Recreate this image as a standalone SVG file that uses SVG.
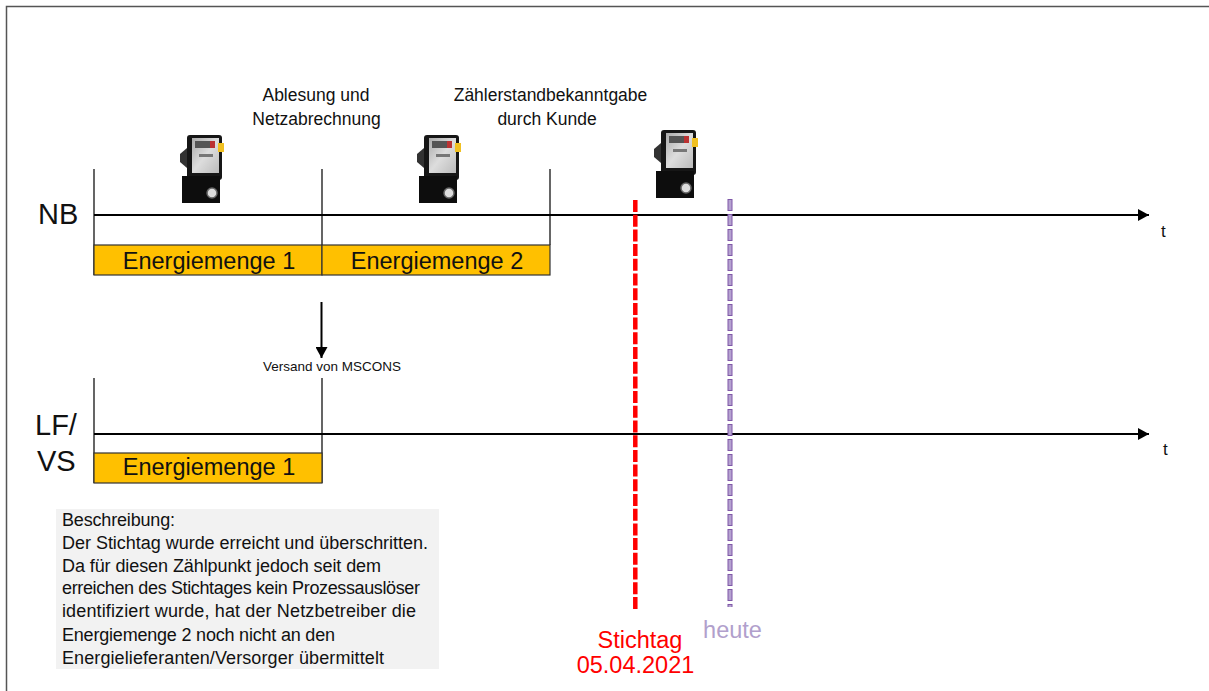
<svg xmlns="http://www.w3.org/2000/svg" width="1209" height="691" viewBox="0 0 1209 691">
<style>
text{font-family:"Liberation Sans",Arial,sans-serif;fill:#111}
.ax{stroke:#000;stroke-width:2;fill:none}
.tick{stroke:#000;stroke-width:1.2;fill:none}
.bar{fill:#ffc000;stroke:#333;stroke-width:1.2}
.bt{font-size:23.500px;text-anchor:middle}
.lab{font-size:17.500px;text-anchor:middle}
.big{font-size:29px}
.d{font-size:18px}
.red{font-size:23.500px;text-anchor:middle;fill:#f00}
</style>
<defs>
<marker id="a" markerUnits="userSpaceOnUse" markerWidth="12" markerHeight="12" refX="11" refY="6" orient="auto"><path d="M0 0L11 6L0 12Z" fill="#000"/></marker>
<filter id="soft" x="-10%" y="-10%" width="120%" height="120%"><feGaussianBlur stdDeviation="0.500"/></filter>
<linearGradient id="face" x1="0" y1="0" x2="1" y2="1"><stop offset="0" stop-color="#aaa"/><stop offset="0.500" stop-color="#ddd"/><stop offset="1" stop-color="#bbb"/></linearGradient>
<g id="meter" filter="url(#soft)">
<path d="M-12 -10L-5 -16V4L-12 -2Z" fill="#333"/>
<rect x="-5" y="-29" width="35" height="45" rx="3" fill="#151515"/>
<rect x="0" y="-26" width="27" height="35" fill="url(#face)"/>
<rect x="3" y="-23" width="20" height="7" fill="#555"/>
<rect x="18" y="-23" width="5" height="7" fill="#b33"/>
<rect x="7" y="-10" width="14" height="3" fill="#777"/>
<rect x="26" y="-21" width="6" height="9" fill="#f0c020"/>
<rect x="-10" y="12" width="38" height="27" fill="#0b0b0b"/>
<circle cx="20" cy="29" r="5" fill="#ddd" stroke="#666" stroke-width="1.500"/>
</g>
</defs>
<rect width="1209" height="691" fill="#fff"/>
<path id="frame" d="M6.500 691V6.500H1209" fill="none" stroke="#555" stroke-width="1.500"/>

<g id="description">
<rect x="56" y="509" width="383" height="160" fill="#f2f2f2"/>
<text class="d" x="62" y="526" textLength="113">Beschreibung:</text>
<text class="d" x="62" y="548.500" textLength="366">Der Stichtag wurde erreicht und überschritten.</text>
<text class="d" x="62" y="571.500" textLength="319">Da für diesen Zählpunkt jedoch seit dem</text>
<text class="d" x="62" y="594" textLength="358">erreichen des Stichtages kein Prozessauslöser</text>
<text class="d" x="62" y="617" textLength="354">identifiziert wurde, hat der Netzbetreiber die</text>
<text class="d" x="62" y="640.500" textLength="273">Energiemenge 2 noch nicht an den</text>
<text class="d" x="62" y="663.500" textLength="322">Energielieferanten/Versorger übermittelt</text>
</g>

<g id="connectors">
<path class="ax" d="M94 215H1149" marker-end="url(#a)"/>
<path class="ax" d="M94 434H1149" marker-end="url(#a)"/>
<path class="tick" d="M94 169V275M322 169V245M550 169V245M94 378V483M322 378V483"/>
<path class="ax" d="M321.500 302V358" marker-end="url(#a)"/>
<path d="M635.300 200V609" fill="none" stroke="#f00" stroke-width="4.500" stroke-dasharray="12 2.700"/>
<path d="M730 199V607" fill="none" stroke="#7e57a8" stroke-width="5" stroke-dasharray="12 3"/>
<path d="M730 200V607" fill="none" stroke="#b5a2d0" stroke-width="3" stroke-dasharray="10 5"/>
</g>

<g id="bar-nb-1"><rect class="bar" x="94" y="245" width="228" height="30"/><text class="bt" x="209" y="269">Energiemenge 1</text></g>
<g id="bar-nb-2"><rect class="bar" x="322" y="245" width="228" height="30"/><text class="bt" x="437" y="269">Energiemenge 2</text></g>
<g id="bar-lf-1"><rect class="bar" x="94" y="453" width="228" height="30"/><text class="bt" x="209" y="475">Energiemenge 1</text></g>

<g id="meter-1"><use href="#meter" x="192" y="164"/></g>
<g id="meter-2"><use href="#meter" x="429" y="164"/></g>
<g id="meter-3"><use href="#meter" x="666" y="159"/></g>

<g id="label-nb"><text class="big" x="38" y="224">NB</text></g>
<g id="label-lf"><text class="big" x="35" y="435">LF/</text><text class="big" x="37" y="471">VS</text></g>
<g id="label-t1"><text x="1161" y="237" font-size="17">t</text></g>
<g id="label-t2"><text x="1163" y="455" font-size="17">t</text></g>
<g id="label-ablesung"><text class="lab" x="316" y="101">Ablesung und</text><text class="lab" x="316.500" y="125">Netzabrechnung</text></g>
<g id="label-zaehler"><text class="lab" x="550.500" y="101">Zählerstandbekanntgabe</text><text class="lab" x="547" y="125">durch Kunde</text></g>
<g id="label-mscons"><text x="263" y="371" font-size="13.500">Versand von MSCONS</text></g>
<g id="label-stichtag"><text class="red" x="640" y="648">Stichtag</text><text class="red" x="635.500" y="673">05.04.2021</text></g>
<g id="label-heute"><text x="732.500" y="638" font-size="23.500" text-anchor="middle" style="fill:#b1a0cc">heute</text></g>
</svg>
